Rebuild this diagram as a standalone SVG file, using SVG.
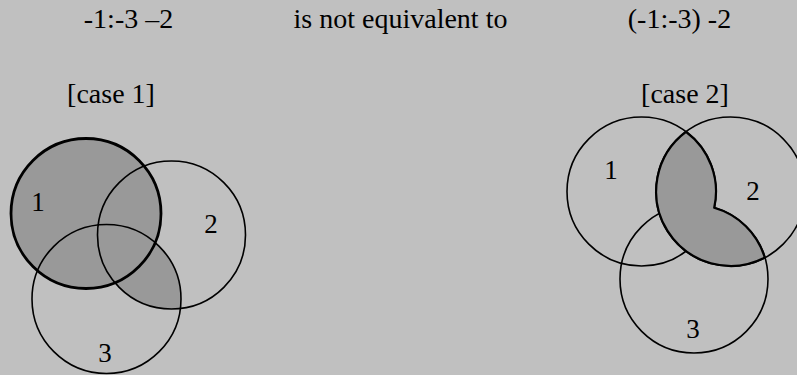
<svg xmlns="http://www.w3.org/2000/svg" width="797" height="375" viewBox="0 0 797 375">
<style>
text{font-family:"Liberation Serif","Times New Roman",serif;font-size:28px;fill:#000;text-anchor:middle}
.lbl{font-size:27px}
.ring{fill:none;stroke:#000;stroke-width:1.6}
.thick{fill:none;stroke:#000;stroke-width:2.8}
.shade{fill:#999999;stroke:none}
</style>
<defs>
<clipPath id="clipA2"><circle cx="171.5" cy="235" r="74"/></clipPath>
</defs>
<rect x="0" y="0" width="797" height="375" fill="#c0c0c0"/>
<g id="titles">
<text x="128.5" y="28">-1:-3 –2</text>
<text x="400.5" y="28">is not equivalent to</text>
<text x="679.5" y="28">(-1:-3) -2</text>
<text x="111" y="103">[case 1]</text>
<text x="685" y="103">[case 2]</text>
</g>
<g id="case1">
<g id="case1-shading">
<circle class="shade" cx="86" cy="213.5" r="75"/>
<circle class="shade" cx="106.5" cy="299" r="74.5" clip-path="url(#clipA2)"/>
</g>
<g id="case1-set1"><circle class="thick" cx="86" cy="213.5" r="75"/><text class="lbl" x="38" y="211">1</text></g>
<g id="case1-set2"><circle class="ring" cx="171.5" cy="235" r="74"/><text class="lbl" x="211" y="233">2</text></g>
<g id="case1-set3"><circle class="ring" cx="106.5" cy="299" r="74.5"/><text class="lbl" x="105" y="362">3</text></g>
</g>
<g id="case2">
<g id="case2-set1"><circle class="ring" cx="641.5" cy="191.5" r="74.5"/><text class="lbl" x="611" y="179">1</text></g>
<g id="case2-set2"><circle class="ring" cx="730.5" cy="191.5" r="74.5"/><text class="lbl" x="753" y="200">2</text></g>
<g id="case2-set3"><circle class="ring" cx="694" cy="279" r="74"/><text class="lbl" x="693" y="338">3</text></g>
<path id="case2-shading" d="M686,131.75 A74.5,74.5 0 0 0 764.8,257.6 A74,74 0 0 0 714.2,207.8 A74.5,74.5 0 0 0 686,131.75 Z" fill="#999999" stroke="#000" stroke-width="2.2" stroke-linejoin="round"/>
</g>
</svg>
